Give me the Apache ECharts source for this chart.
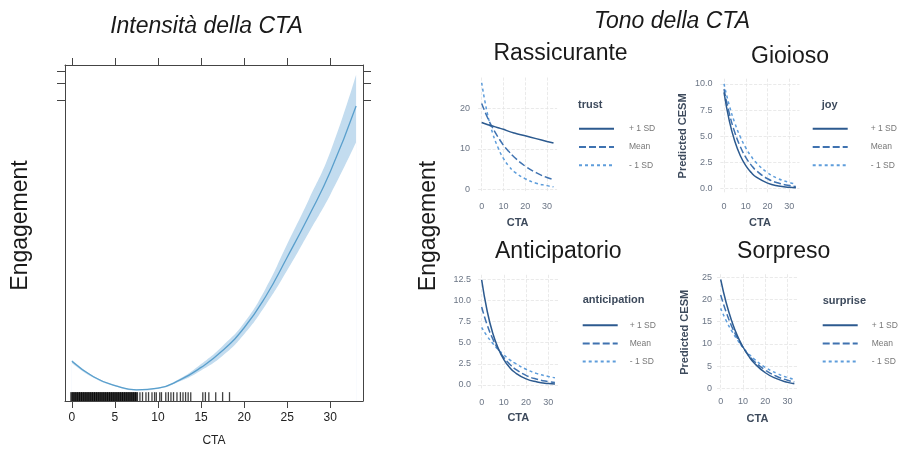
<!DOCTYPE html>
<html><head><meta charset="utf-8">
<script src="https://cdn.jsdelivr.net/npm/echarts@6/dist/echarts.min.js"></script>
<style>html,body{margin:0;padding:0;background:#fff}#c{width:898px;height:452px}</style>
</head><body><div id="c"></div>
<script>
// ---- Left panel: Intensità della CTA ----
const leftCTA  = [0, 2.5, 5, 7.5, 10, 12.5, 15, 17.5, 20, 22.5, 25, 27.5, 30, 33];
const leftFit  = [11.8, 7.2, 4.6, 3.3, 3.8, 6.2, 10.0, 15.0, 21.8, 31.1, 42.8, 55.0, 68.2, 87.8];
const leftLow  = [11.3, 6.9, 4.4, 3.1, 3.6, 5.8, 9.1, 13.5, 19.9, 28.6, 38.9, 50.1, 61.4, 77.0];
const leftHigh = [12.3, 7.5, 4.8, 3.5, 4.0, 6.6, 11.0, 16.4, 23.3, 33.5, 46.7, 59.9, 74.1, 97.1];
const rugDense = [0,0.25,0.5,0.75,1,1.25,1.5,1.75,2,2.25,2.5,2.75,3,3.25,3.5,3.75,4,4.25,4.5,4.75,5,5.25,5.5,5.75,6,6.25,6.5,6.75,7,7.25,7.5];
const rugSparse = [7.9,8.2,8.6,8.9,9.3,9.6,9.8,10.2,10.4,10.9,11.2,11.5,11.8,12.2,12.6,12.9,13.2,13.5,13.8,15.2,15.5,15.9,16.7,17.5,18.3];
const leftXTicks = [0, 5, 10, 15, 20, 25, 30];
const leftYTicks = [89.5, 94.7, 98.2];

// ---- Right panels: Tono della CTA ----
const ctaX = [0, 2.5, 5, 7.5, 10, 12.5, 15, 20, 25, 30, 33];
const trustHigh = [16.5, 16.0, 15.6, 15.2, 14.8, 14.3, 13.9, 13.2, 12.5, 11.8, 11.4];
const trustMean = [21.2, 17.9, 15.2, 12.9, 10.9, 9.3, 7.9, 5.7, 4.1, 2.9, 2.4];
const trustLow  = [26.3, 19.0, 13.9, 10.3, 7.6, 5.7, 4.3, 2.6, 1.5, 0.9, 0.6];
const joyHigh = [9.2, 6.43, 4.5, 3.14, 2.2, 1.54, 1.08, 0.53, 0.26, 0.13, 0.08];
const joyMean = [9.5, 7.13, 5.35, 4.0, 3.0, 2.25, 1.69, 0.95, 0.54, 0.30, 0.21];
const joyLow  = [10.0, 7.9, 6.25, 4.94, 3.9, 3.09, 2.44, 1.53, 0.95, 0.6, 0.45];
const antHigh = [12.4, 8.7, 6.1, 4.3, 3.0, 2.1, 1.47, 0.72, 0.36, 0.17, 0.11];
const antMean = [9.2, 7.07, 5.44, 4.18, 3.23, 2.48, 1.9, 1.13, 0.67, 0.39, 0.29];
const antLow  = [6.8, 5.75, 4.9, 4.16, 3.55, 3.0, 2.57, 1.85, 1.34, 1.0, 0.85];
const surHigh = [24.5, 19.2, 15.1, 11.8, 9.3, 7.3, 5.7, 3.5, 2.17, 1.33, 1.0];
const surMean = [21.0, 17.1, 13.9, 11.3, 9.2, 7.5, 6.1, 4.1, 2.7, 1.8, 1.4];
const surLow  = [18.0, 15.2, 12.9, 10.9, 9.2, 7.8, 6.6, 4.7, 3.4, 2.4, 2.0];
const panelXTicks = [0, 10, 20, 30];
const legendNames = ['+ 1 SD', 'Mean', '- 1 SD'];

const FONT = '"Liberation Sans", Arial, sans-serif';
const C_HIGH = '#2c5a8f', C_MEAN = '#3f72b0', C_LOW = '#5e9ddb';
const AX_TXT = '#6b7585', AX_TTL = '#3d4a5c';
const pair = (xs, ys) => xs.map((x, i) => [x, ys[i]]);

const panels = [
  {grid:{left:478.1, top:77.5, width:79, height:114.6}, y:[-0.7,27.6], yTicks:[0,10,20], dec:0, yName:'', yGap:0, yMargin:8, xMargin:10, xNameGap:25,
   data:[trustHigh, trustMean, trustLow], title:'trust', tx:578, ty:105, lx:578, ly:124.3, pad:10},
  {grid:{left:720.4, top:78.7, width:79.1, height:114.4}, y:[-0.42,10.5], yTicks:[0,2.5,5,7.5,10], dec:1, yName:'Predicted CESM', yGap:32, yMargin:8, xMargin:9, xNameGap:24,
   data:[joyHigh, joyMean, joyLow], title:'joy', tx:821.7, ty:105, lx:811.7, ly:124.3, pad:18},
  {grid:{left:478.0, top:274.8, width:80.6, height:114.4}, y:[-0.5,13.0], yTicks:[0,2.5,5,7.5,10,12.5], dec:1, yName:'', yGap:0, yMargin:7, xMargin:8.5, xNameGap:23.5,
   data:[antHigh, antMean, antLow], title:'anticipation', tx:582.7, ty:300, lx:581.7, ly:320.7, pad:7},
  {grid:{left:717.0, top:274.2, width:81, height:116.3}, y:[-0.5,25.7], yTicks:[0,5,10,15,20,25], dec:0, yName:'Predicted CESM', yGap:27, yMargin:5, xMargin:7, xNameGap:23,
   data:[surHigh, surMean, surLow], title:'surprise', tx:822.7, ty:301, lx:821.7, ly:320.7, pad:9}
];

const grids = [{left:65, top:65, width:298, height:341}];
const xAxes = [
  {gridIndex:0, type:'value', min:-0.8, max:33.8, position:'bottom', z:10,
   axisLine:{show:true, onZero:false, lineStyle:{color:'#444', width:1}},
   axisTick:{show:true, customValues:leftXTicks, length:7, lineStyle:{color:'#444'}},
   axisLabel:{customValues:leftXTicks, margin:11, fontSize:12, color:'#222', fontFamily:FONT},
   splitLine:{show:false}, name:'CTA', nameLocation:'middle', nameGap:34,
   nameTextStyle:{fontSize:12, color:'#222', fontFamily:FONT}},
  {gridIndex:0, type:'value', min:-0.8, max:33.8, position:'top', z:10,
   axisLine:{show:true, onZero:false, lineStyle:{color:'#444', width:1}},
   axisTick:{show:true, customValues:leftXTicks, length:7, lineStyle:{color:'#444'}},
   axisLabel:{show:false}, splitLine:{show:false}}
];
const yAxes = [
  {gridIndex:0, type:'value', min:0, max:100, position:'left', z:10,
   axisLine:{show:true, onZero:false, lineStyle:{color:'#444', width:1}},
   axisTick:{show:true, customValues:leftYTicks, length:8, lineStyle:{color:'#444'}},
   axisLabel:{show:false}, splitLine:{show:false}},
  {gridIndex:0, type:'value', min:0, max:100, position:'right', z:10,
   axisLine:{show:true, onZero:false, lineStyle:{color:'#444', width:1}},
   axisTick:{show:true, customValues:leftYTicks, length:8, lineStyle:{color:'#444'}},
   axisLabel:{show:false}, splitLine:{show:false}}
];
const series = [
  // confidence band: upper area in blue, covered below the lower bound with white
  {type:'line', name:'bandHigh', xAxisIndex:0, yAxisIndex:0, smooth:0.5, symbol:'none',
   lineStyle:{opacity:0}, areaStyle:{color:'#c3dcef', opacity:1},
   data:pair(leftCTA, leftHigh), silent:true, z:1},
  {type:'line', name:'bandLow', xAxisIndex:0, yAxisIndex:0, smooth:0.5, symbol:'none',
   lineStyle:{opacity:0}, areaStyle:{color:'#ffffff', opacity:1},
   data:pair(leftCTA, leftLow), silent:true, z:2},
  {type:'line', name:'fit', xAxisIndex:0, yAxisIndex:0, smooth:0.5, symbol:'none',
   lineStyle:{color:'#5a9fcc', width:1.3}, data:pair(leftCTA, leftFit), z:3},
  {type:'scatter', name:'rugDense', xAxisIndex:0, yAxisIndex:0, symbol:'rect', symbolSize:[3.2, 9],
   itemStyle:{color:'#000'}, data:rugDense.map(v => [v, 1.3]), z:4, silent:true},
  {type:'scatter', name:'rugSparse', xAxisIndex:0, yAxisIndex:0, symbol:'rect', symbolSize:[1.3, 9],
   itemStyle:{color:'#111'}, data:rugSparse.map(v => [v, 1.3]), z:4, silent:true}
];
const legends = [];
const graphics = [];

const styles = [
  {name:'+ 1 SD', color:C_HIGH, type:'solid'},
  {name:'Mean', color:C_MEAN, type:[7, 3]},
  {name:'- 1 SD', color:C_LOW, type:[3, 3]}
];

panels.forEach((p, k) => {
  const gi = k + 1;          // grid index
  const ai = k + 2;          // axis index (two axes of each kind belong to the left grid)
  grids.push(p.grid);
  xAxes.push({gridIndex:gi, type:'value', min:-1.65, max:34.65,
    axisLine:{show:false}, axisTick:{show:false, customValues:panelXTicks},
    axisLabel:{customValues:panelXTicks, fontSize:9, color:AX_TXT, margin:p.xMargin, fontFamily:FONT},
    splitLine:{show:true, lineStyle:{type:'dashed', color:'#e4e4e4', width:0.8}},
    name:'CTA', nameLocation:'middle', nameGap:p.xNameGap,
    nameTextStyle:{fontSize:11, fontWeight:'bold', color:AX_TTL, fontFamily:FONT}});
  yAxes.push({gridIndex:gi, type:'value', min:p.y[0], max:p.y[1],
    axisLine:{show:false}, axisTick:{show:false, customValues:p.yTicks},
    axisLabel:{customValues:p.yTicks, fontSize:9, color:AX_TXT, margin:p.yMargin, fontFamily:FONT,
      formatter:v => v.toFixed(p.dec)},
    splitLine:{show:true, lineStyle:{type:'dashed', color:'#e4e4e4', width:0.8}},
    name:p.yName, nameLocation:'middle', nameGap:p.yGap, nameRotate:90,
    nameTextStyle:{fontSize:11, fontWeight:'bold', color:AX_TTL, fontFamily:FONT}});
  [2, 1, 0].forEach(j => {
    const s = styles[j];
    series.push({type:'line', name:s.name, xAxisIndex:ai, yAxisIndex:ai, smooth:0.5,
      symbol:'none', showSymbol:false, itemStyle:{color:s.color, opacity:0},
      lineStyle:{color:s.color, width:1.5, type:s.type}, data:pair(ctaX, p.data[j]), z:3});
  });
  legends.push({data:legendNames, orient:'vertical', left:p.lx, top:p.ly, itemWidth:35, itemHeight:10,
    itemGap:9.2, selectedMode:false, padding:0,
    itemStyle:{opacity:0},
    textStyle:{fontSize:8.5, color:'#777', fontFamily:FONT, padding:[0, 0, 0, p.pad]}});
  graphics.push({type:'text', x:p.tx, y:p.ty, style:{text:p.title, font:'bold 11px ' + FONT,
    fill:AX_TTL, textAlign:'left', textVerticalAlign:'middle'}});
});

const bigText = (t, x, y, italic, rot) => ({type:'text', x:x, y:y, rotation:rot || 0,
  style:{text:t, font:(italic ? 'italic ' : '') + '23px ' + FONT, fill:'#1a1a1a',
  textAlign:'center', textVerticalAlign:'middle'}});
graphics.push(bigText('Intensità della CTA', 206.5, 27, true));
graphics.push(bigText('Tono della CTA', 672, 21.5, true));
graphics.push(bigText('Rassicurante', 560.5, 53.5));
graphics.push(bigText('Gioioso', 790, 57));
graphics.push(bigText('Anticipatorio', 558.3, 252));
graphics.push(bigText('Sorpreso', 783.7, 252));
graphics.push(bigText('Engagement', 21, 225.5, false, Math.PI / 2));
graphics.push(bigText('Engagement', 429, 226, false, Math.PI / 2));

const chart = echarts.init(document.getElementById('c'));
chart.setOption({
  animation:false,
  backgroundColor:'#fff',
  grid:grids, xAxis:xAxes, yAxis:yAxes, series:series,
  legend:legends,
  graphic:graphics
});
</script></body></html>
